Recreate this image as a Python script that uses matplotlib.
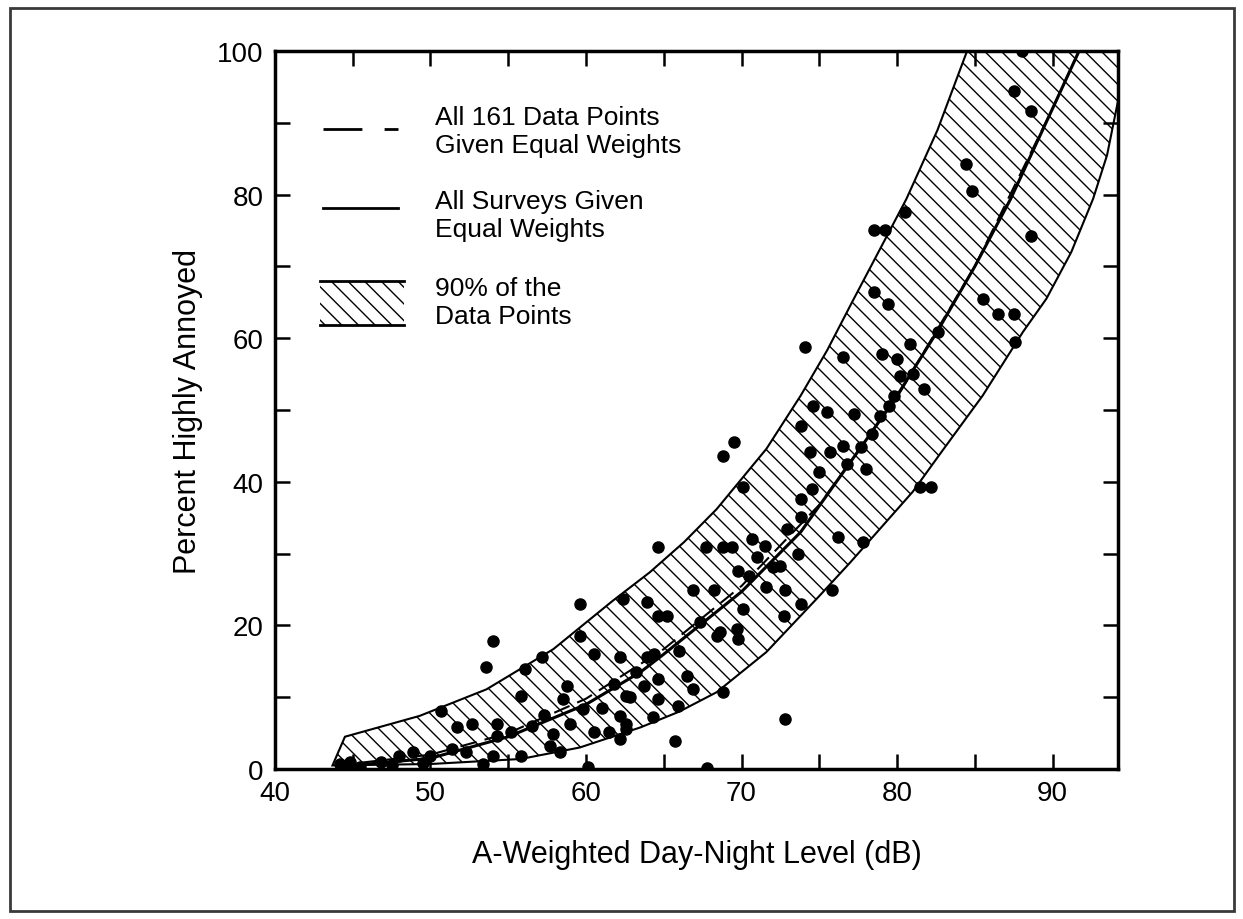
import matplotlib
matplotlib.use("Agg")
import matplotlib.pyplot as plt
from matplotlib.patches import Rectangle

plt.rcParams['font.family'] = ['Liberation Sans', 'DejaVu Sans']
plt.rcParams['hatch.linewidth'] = 1.0

# 90% band edges (dB, percent)
upper_db = [44.5, 49.3, 53.6, 57.9, 61.7, 64.1, 66.3, 68.4, 71.6, 73.8, 75.5, 77.1, 80.6, 82.6, 84.5, 86.5]
upper_pct = [4.5, 7.4, 11.1, 16.7, 23.4, 27.4, 31.6, 36.2, 44.6, 52.0, 58.3, 65.0, 79.4, 89.0, 100.0, 110.0]
lower_db = [43.7, 50.0, 55.8, 59.6, 63.5, 66.0, 68.4, 71.6, 75.0, 77.0, 81.0, 82.8, 85.5, 88.1, 89.6,
            91.2, 92.6, 93.5, 94.2, 95.5]
lower_pct = [0.5, 0.7, 1.4, 3.0, 5.8, 8.0, 10.7, 16.3, 24.1, 28.8, 38.6, 44.0, 52.0, 60.9, 65.5,
             72.0, 79.4, 85.5, 93.0, 100.0]

# fitted curves
solid_db = [44, 50, 55, 60, 63.5, 65, 70, 73.8, 78, 80, 82.6, 85, 87.3, 90, 91.7]
solid_pct = [0.3, 1.5, 4.5, 9.0, 13.5, 16.0, 24.7, 33.0, 45.8, 52.0, 61.0, 70.0, 79.4, 92.0, 100.0]
dashed_db = [44, 50, 55, 60, 65, 70, 75, 80, 85, 90, 91.7]
dashed_pct = [0.5, 2.0, 5.0, 9.8, 16.7, 25.5, 36.8, 51.8, 70.0, 92.0, 100.0]

# survey data points
pts_db = [44.2, 44.8, 44.5, 45.5, 46.8, 47.5, 48.0, 48.9, 49.5, 50.0, 50.7, 51.4, 52.3, 52.7,
          51.7, 53.4, 53.6, 54.0, 54.0, 54.3, 54.3, 55.8, 55.8, 56.1, 57.2, 57.7, 57.9, 58.3,
          58.5, 59.0, 59.6, 59.6, 59.8, 60.1, 60.5, 60.5, 61.5, 62.2, 62.2, 62.4, 62.6, 62.6,
          62.8, 62.2, 62.6, 63.7, 63.9, 63.9, 64.3, 64.4, 64.6, 64.6, 64.6, 64.6, 65.2, 65.7,
          65.9, 66.5, 66.9, 66.9, 67.7, 67.8, 68.2, 68.4, 68.6, 68.8, 68.8, 68.8, 69.4, 69.5,
          69.7, 69.8, 69.8, 70.1, 70.1, 70.5, 70.7, 71.6, 72.0, 72.5, 72.7, 72.8, 72.8, 72.9,
          73.6, 73.8, 73.8, 73.8, 73.8, 74.1, 74.4, 74.6, 75.0, 75.5, 75.7, 75.8, 76.2, 76.5,
          76.5, 77.7, 77.8, 78.0, 78.4, 78.5, 78.5, 79.2, 78.9, 79.0, 79.4, 79.5, 80.0, 80.2,
          80.5, 80.8, 81.5, 82.2, 81.7, 82.6, 84.4, 84.8, 85.5, 86.5, 87.5, 87.5, 87.6, 88.0,
          88.6, 88.6, 55.2, 56.5, 57.3, 58.8, 61.0, 61.8, 63.2, 66.0, 67.3, 71.0, 74.5, 76.8,
          77.2, 79.8, 81.0, 71.5]
pts_pct = [0.7, 1.0, 0.4, 0.3, 1.0, 0.5, 1.8, 2.4, 0.8, 1.8, 8.1, 2.8, 2.4, 6.3,
           5.8, 0.7, 14.2, 17.8, 1.8, 6.3, 4.6, 10.2, 1.8, 13.9, 15.6, 3.2, 4.9, 2.4,
           9.7, 6.3, 23.0, 18.5, 8.4, 0.3, 16.0, 5.1, 5.1, 4.2, 15.6, 23.7, 6.3, 10.2,
           10.0, 7.4, 5.6, 11.6, 23.2, 15.6, 7.2, 16.0, 21.3, 12.5, 9.7, 30.9, 21.3, 3.9,
           8.8, 13.0, 11.1, 25.0, 30.9, 0.2, 25.0, 18.5, 19.1, 10.7, 30.9, 43.6, 30.9, 45.5,
           19.5, 18.1, 27.6, 22.3, 39.3, 26.9, 32.0, 25.3, 28.1, 28.3, 21.3, 25.0, 7.0, 33.4,
           29.9, 23.0, 35.1, 37.6, 47.8, 58.8, 44.2, 50.6, 41.4, 49.7, 44.2, 25.0, 32.3, 45.0,
           57.4, 44.8, 31.6, 41.8, 46.7, 66.4, 75.0, 75.0, 49.2, 57.8, 64.8, 50.6, 57.1, 54.7,
           77.6, 59.2, 39.3, 39.3, 52.9, 60.9, 84.3, 80.5, 65.5, 63.4, 63.4, 94.4, 59.5, 100.0,
           91.6, 74.2, 5.2, 6.0, 7.5, 11.5, 8.5, 11.8, 13.5, 16.5, 20.5, 29.5, 39.0, 42.5,
           49.5, 52.0, 55.0, 31.0]

legend_labels = ["All 161 Data Points\nGiven Equal Weights",
                 "All Surveys Given\nEqual Weights",
                 "90% of the\nData Points"]

fig = plt.figure(figsize=(12.43, 9.2), dpi=100)
fig.patches.append(Rectangle((0.008, 0.009), 0.985, 0.981, transform=fig.transFigure,
                             fill=False, edgecolor='#3a3a3a', lw=2))
ax = fig.add_axes([0.2212, 0.163, 0.6782, 0.7805])

band_x = upper_db + lower_db[::-1]
band_y = upper_pct + lower_pct[::-1]
ax.fill(band_x, band_y, facecolor='white', edgecolor='black', hatch='\\\\', lw=1.5, zorder=1)

ax.plot(pts_db, pts_pct, 'o', color='black', ms=8, zorder=2)
ax.plot(dashed_db, dashed_pct, color='black', lw=1.5, dashes=(8, 4), zorder=3)
ax.plot(solid_db, solid_pct, color='black', lw=2.2, zorder=3)

ax.set_xlim(40, 94.2)
ax.set_ylim(0, 100)
ax.set_xticks(range(40, 91, 10))
ax.set_xticks(range(45, 90, 10), minor=True)
ax.set_yticks(range(0, 101, 20))
ax.set_yticks(range(10, 100, 20), minor=True)
ax.tick_params(which='both', direction='in', top=True, right=True, length=11, width=1.8,
               labelsize=20, pad=8)
for s in ax.spines.values():
    s.set_linewidth(2.5)

ax.set_xlabel("A-Weighted Day-Night Level (dB)", fontsize=22, labelpad=24)
ax.set_ylabel("Percent Highly Annoyed", fontsize=22, labelpad=10)

# legend drawn by hand, like the original figure
ax.plot([0.057, 0.146], [0.891, 0.891], transform=ax.transAxes, color='black', lw=2,
        dashes=(14, 8))
ax.plot([0.057, 0.146], [0.781, 0.781], transform=ax.transAxes, color='black', lw=2)
ax.add_patch(Rectangle((0.053, 0.619), 0.1, 0.061, transform=ax.transAxes,
                       facecolor='white', edgecolor='black', hatch='\\\\', lw=0))
ax.plot([0.053, 0.153], [0.680, 0.680], transform=ax.transAxes, color='black', lw=2)
ax.plot([0.053, 0.153], [0.619, 0.619], transform=ax.transAxes, color='black', lw=2)
for lab, yy in zip(legend_labels, [0.889, 0.772, 0.650]):
    ax.text(0.19, yy, lab, transform=ax.transAxes, fontsize=19, va='center', ha='left')

fig.savefig("out.png", dpi=100)
